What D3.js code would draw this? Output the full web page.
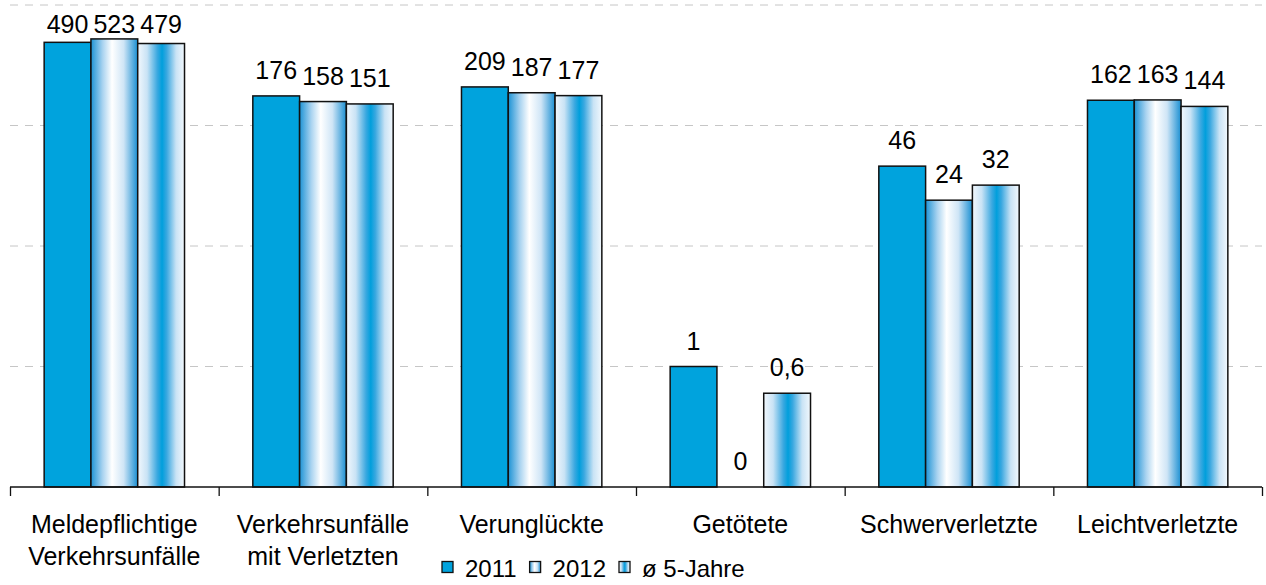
<!DOCTYPE html>
<html>
<head>
<meta charset="utf-8">
<script src="https://cdn.jsdelivr.net/npm/d3@7"></script>
<style>
  html, body { margin: 0; padding: 0; background: #fff; }
  svg text { font-family: "Liberation Sans", Arial, Helvetica, sans-serif; fill: #000; }
</style>
</head>
<body>
<svg id="chart" width="1266" height="585"></svg>
<script>
// ---- data ----
const categories = [
  ["Meldepflichtige", "Verkehrsunfälle"],
  ["Verkehrsunfälle", "mit Verletzten"],
  ["Verunglückte"],
  ["Getötete"],
  ["Schwerverletzte"],
  ["Leichtverletzte"]
];
const seriesNames = ["2011", "2012", "ø 5-Jahre"];
const values2011 = [490, 176, 209, 1, 46, 162];
const values2012 = [523, 158, 187, 0, 24, 163];
const valuesAvg  = [479, 151, 177, 0.6, 32, 144];
const valueLabels2011 = ["490", "176", "209", "1", "46", "162"];
const valueLabels2012 = ["523", "158", "187", "0", "24", "163"];
const valueLabelsAvg  = ["479", "151", "177", "0,6", "32", "144"];
const gridValues = [1, 10, 100, 1000];

const seriesValues = [values2011, values2012, valuesAvg];
const seriesLabels = [valueLabels2011, valueLabels2012, valueLabelsAvg];

// ---- setup ----
const svg = d3.select("#chart");
const defs = svg.append("defs");

const g2012 = defs.append("linearGradient").attr("id", "grad2012")
  .attr("x1", "0%").attr("x2", "100%").attr("y1", "0%").attr("y2", "0%");
[[0, "#1d93d5"], [0.25, "#a9d3f0"], [0.45, "#ffffff"], [0.7, "#cfe5f6"], [1, "#1a8fd2"]]
  .forEach(([o, c]) => g2012.append("stop").attr("offset", o).attr("stop-color", c));

const gAvg = defs.append("linearGradient").attr("id", "gradAvg")
  .attr("x1", "0%").attr("x2", "100%").attr("y1", "0%").attr("y2", "0%");
[[0, "#f2f8fd"], [0.2, "#c9e3f5"], [0.42, "#3aa8e0"], [0.52, "#009fdc"], [0.62, "#3aa8e0"], [0.82, "#c9e3f5"], [1, "#f2f8fd"]]
  .forEach(([o, c]) => gAvg.append("stop").attr("offset", o).attr("stop-color", c));

const fills = ["#00a3dd", "url(#grad2012)", "url(#gradAvg)"];

const left = 10, right = 1262, baseY = 487, topY = 5;

const x0 = d3.scaleBand().domain(d3.range(categories.length)).range([left, right]).padding(0);
const x1 = d3.scaleBand().domain(d3.range(seriesNames.length)).range([0, x0.bandwidth()])
  .paddingInner(0).paddingOuter(0.73);
const y = d3.scaleLog().domain([0.1, 1000]).range([baseY, topY]);

// gridlines
svg.append("g").selectAll("line").data(gridValues).join("line")
  .attr("x1", left).attr("x2", right)
  .attr("y1", d => y(d)).attr("y2", d => y(d))
  .attr("stroke", "#c6c6c6").attr("stroke-width", 1)
  .attr("stroke-dasharray", "8,7");

// bars
const groups = svg.append("g").selectAll("g").data(categories).join("g")
  .attr("transform", (d, i) => `translate(${x0(i)},0)`);

groups.each(function(cat, ci) {
  const g = d3.select(this);
  seriesNames.forEach((s, si) => {
    const v = seriesValues[si][ci];
    if (v > 0) {
      g.append("rect")
        .attr("x", x1(si)).attr("width", x1.bandwidth())
        .attr("y", y(v)).attr("height", baseY - y(v))
        .attr("fill", fills[si])
        .attr("stroke", "#111").attr("stroke-width", 1.5);
    }
    const top = v > 0 ? y(v) : baseY;
    g.append("text")
      .attr("x", x1(si) + x1.bandwidth() / 2)
      .attr("y", Math.max(top - 17, 33))
      .attr("text-anchor", "middle")
      .style("font-size", "25px")
      .text(seriesLabels[si][ci]);
  });
});

// axis
const axis = d3.axisBottom(d3.scaleLinear().domain([0, categories.length]).range([left, right]))
  .tickValues(d3.range(categories.length + 1)).tickSize(9).tickFormat("");
const ax = svg.append("g").attr("transform", `translate(0,${baseY})`).call(axis);
ax.select(".domain").attr("stroke", "#111").attr("stroke-width", 1.3).attr("d", `M${left},0H${right}`);
ax.selectAll(".tick line").attr("stroke", "#111").attr("stroke-width", 1.3);

// category labels
groups.each(function(cat, ci) {
  const t = d3.select(this).append("text")
    .attr("text-anchor", "middle")
    .style("font-size", "25px");
  cat.forEach((line, li) => {
    t.append("tspan").attr("x", x0.bandwidth() / 2).attr("y", 533 + li * 32).text(line);
  });
});

// legend
const legend = svg.append("g").attr("transform", "translate(442,567)");
let lx = 0;
seriesNames.forEach((s, si) => {
  legend.append("rect").attr("x", lx).attr("y", -5.5).attr("width", 11).attr("height", 11)
    .attr("fill", fills[si]).attr("stroke", "#111").attr("stroke-width", 1.3);
  const t = legend.append("text").attr("x", lx + 23).attr("y", 10)
    .style("font-size", "24px").text(s);
  lx += 23 + t.node().getComputedTextLength() + 13;
});
</script>
</body>
</html>
